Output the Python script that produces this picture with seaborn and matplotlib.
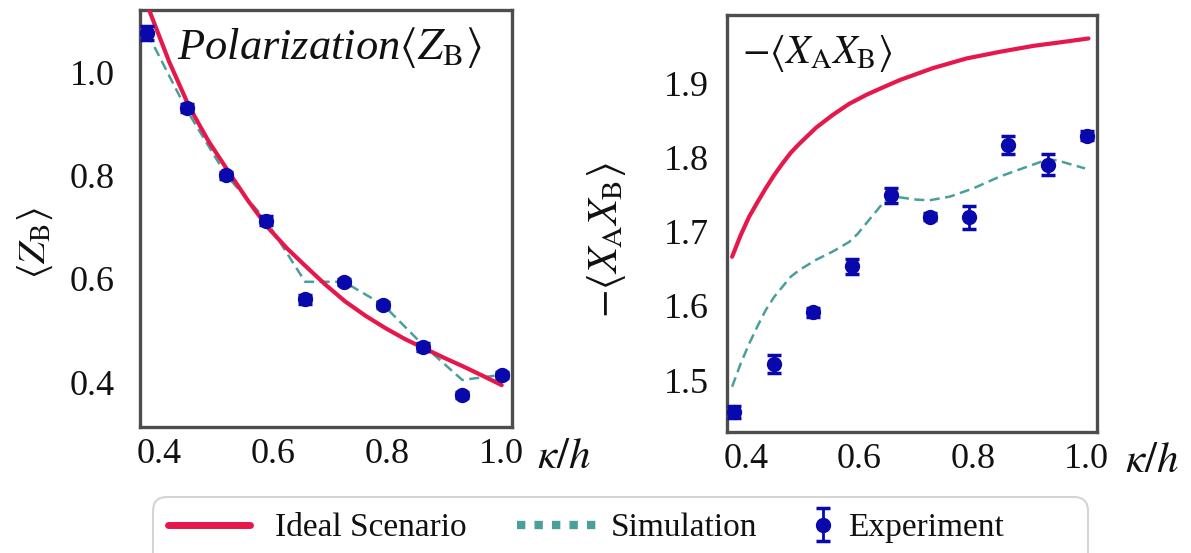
import numpy as np
import pandas as pd
import matplotlib
matplotlib.use("Agg")
import matplotlib.pyplot as plt
from matplotlib.lines import Line2D
from matplotlib.patches import FancyBboxPatch
from matplotlib.transforms import IdentityTransform
import seaborn as sns

# ---------------- data ----------------
kappa = [0.380, 0.449, 0.518, 0.587, 0.656, 0.724, 0.793, 0.862, 0.931, 1.000]

# left panel: polarization <Z_B>
zb_exp = [1.075, 0.930, 0.800, 0.712, 0.560, 0.593, 0.549, 0.468, 0.375, 0.414]
zb_err = [0.014, 0.008, 0.007, 0.009, 0.008, 0.006, 0.006, 0.008, 0.006, 0.006]
zb_sim = [1.075, 0.926, 0.800, 0.714, 0.594, 0.594, 0.549, 0.472, 0.404, 0.414]
zb_ideal_k = [0.383, 0.418, 0.453, 0.487, 0.522, 0.556, 0.590, 0.624, 0.658,
              0.692, 0.726, 0.762, 0.797, 0.831, 0.865, 0.899, 0.933, 0.967,
              1.000]
zb_ideal = [1.120, 1.020, 0.933, 0.866, 0.807, 0.751, 0.700, 0.659, 0.623,
            0.588, 0.556, 0.528, 0.504, 0.483, 0.465, 0.447, 0.430, 0.412,
            0.394]

# right panel: -<X_A X_B>
xx_exp = [1.457, 1.522, 1.591, 1.653, 1.749, 1.720, 1.719, 1.816, 1.790, 1.829]
xx_err = [0.008, 0.012, 0.006, 0.010, 0.010, 0.005, 0.016, 0.012, 0.014, 0.006]
xx_sim_k = [0.376, 0.391, 0.406, 0.421, 0.435, 0.450, 0.465, 0.479, 0.494, 0.524,
            0.553, 0.582, 0.597, 0.612, 0.626, 0.641, 0.656, 0.671, 0.700, 0.723,
            0.759, 0.800, 0.847, 0.894, 0.931, 0.947, 0.965, 0.997]
xx_sim = [1.491, 1.522, 1.549, 1.573, 1.594, 1.612, 1.626, 1.639, 1.648, 1.662,
          1.673, 1.686, 1.697, 1.711, 1.724, 1.738, 1.747, 1.746, 1.743, 1.742,
          1.747, 1.758, 1.774, 1.787, 1.797, 1.796, 1.792, 1.785]
xx_ideal_k = [0.376, 0.391, 0.406, 0.421, 0.435, 0.450, 0.465, 0.479, 0.494,
              0.524, 0.553, 0.582, 0.612, 0.641, 0.671, 0.729, 0.788, 0.847,
              0.906, 0.965, 1.003]
xx_ideal = [1.666, 1.695, 1.720, 1.740, 1.758, 1.776, 1.792, 1.806, 1.818,
            1.840, 1.857, 1.872, 1.884, 1.894, 1.904, 1.920, 1.933, 1.942,
            1.950, 1.956, 1.960]

xticks = [0.4, 0.6, 0.8, 1.0]
xticklabels = ["0.4", "0.6", "0.8", "1.0"]
zb_yticks = [0.4, 0.6, 0.8, 1.0]
zb_yticklabels = ["0.4", "0.6", "0.8", "1.0"]
xx_yticks = [1.5, 1.6, 1.7, 1.8, 1.9]
xx_yticklabels = ["1.5", "1.6", "1.7", "1.8", "1.9"]

legend_labels = ["Ideal Scenario", "Simulation", "Experiment"]

# ---------------- style ----------------
sns.set_theme(style="white")
plt.rcParams["font.family"] = ["Liberation Serif", "DejaVu Serif"]
plt.rcParams["mathtext.fontset"] = "stix"

RED = "#e5174b"
TEAL = "#4a9f9b"
BLUE = "#0808ac"
SPINE = "#4d4d4d"
TXT = "#111111"

W, H = 1191, 553
fig = plt.figure(figsize=(W / 100, H / 100), dpi=100)
axL = fig.add_axes([140 / W, 1 - 427 / H, 372 / W, 417 / H])
axR = fig.add_axes([727 / W, 1 - 432 / H, 370 / W, 417 / H])


def draw(ax, ik, iy, sk, sy, ey, ee):
    sns.lineplot(x=ik, y=iy, ax=ax, color=RED, linewidth=3.0, sort=False,
                 estimator=None, zorder=3)
    sns.lineplot(x=sk, y=sy, ax=ax, color=TEAL, linewidth=1.8, sort=False,
                 estimator=None, zorder=2)
    ax.lines[-1].set_dashes([4.0, 2.2])
    cont = ax.errorbar(kappa, ey, yerr=ee, fmt="o", color=BLUE, ms=10,
                       capsize=5, capthick=2.5, elinewidth=2.0, zorder=5)
    for sp in ax.spines.values():
        sp.set_color(SPINE)
        sp.set_linewidth(2.4)
    ax.set_xlim(0.367, 1.018)
    ax.set_xticks(xticks)
    ax.set_xticklabels(xticklabels)
    ax.tick_params(axis="both", direction="in", length=3, width=1,
                   color="#999999", labelsize=26, labelcolor=TXT)
    ax.tick_params(axis="x", pad=8)
    ax.set_xlabel("")
    ax.set_ylabel("")
    return cont


cont = draw(axL, zb_ideal_k, zb_ideal, kappa, zb_sim, zb_exp, zb_err)
axL.set_ylim(0.313, 1.12)
axL.set_yticks(zb_yticks)
axL.set_yticklabels(zb_yticklabels)
axL.tick_params(axis="y", pad=18)
axL.text(0.10, 0.91, r"Polarization$\langle Z_{\mathrm{B}}\rangle$",
         transform=axL.transAxes, fontsize=32, style="italic",
         ha="left", va="center", color=TXT)

draw(axR, xx_ideal_k, xx_ideal, xx_sim_k, xx_sim, xx_exp, xx_err)
axR.set_ylim(1.43, 1.9916)
axR.set_yticks(xx_yticks)
axR.set_yticklabels(xx_yticklabels)
axR.tick_params(axis="y", pad=13)
axR.text(0.04, 0.91, r"$-\langle X_{\mathrm{A}}X_{\mathrm{B}}\rangle$",
         transform=axR.transAxes, fontsize=29, ha="left", va="center",
         color=TXT)

# axis labels
fig.text(35 / W, 1 - 243 / H, r"$\langle Z_{\mathrm{B}}\rangle$", rotation=90,
         fontsize=28, ha="center", va="center", color=TXT)
fig.text(607 / W, 1 - 240 / H, r"$-\langle X_{\mathrm{A}}X_{\mathrm{B}}\rangle$",
         rotation=90, fontsize=30, ha="center", va="center", color=TXT)
fig.text(564 / W, 1 - 458 / H, r"$\kappa/h$", fontsize=31, ha="center",
         va="center", color=TXT)
fig.text(1152 / W, 1 - 462 / H, r"$\kappa/h$", fontsize=31, ha="center",
         va="center", color=TXT)

# legend: frame + three single-entry legends placed like the reference
frame = FancyBboxPatch((153, H - 575), 935, 78,
                       boxstyle="round,pad=0,rounding_size=14",
                       transform=IdentityTransform(), facecolor="white",
                       edgecolor="#d4d4d4", linewidth=1.5, zorder=0)
fig.add_artist(frame)

h_ideal = Line2D([], [], color=RED, linewidth=5)
h_sim = Line2D([], [], color=TEAL, linewidth=6, linestyle=(0, (1.0, 1.1)),
               dash_capstyle="butt")
yc = 1 - 528 / H
specs = [
    (h_ideal, legend_labels[0], 168, 2.46, 0.75),
    (h_sim, legend_labels[1], 517, 2.5, 0.3),
    (cont, legend_labels[2], 806, 1.0, 0.25),
]
for handle, label, xpx, hl, tp in specs:
    lg = fig.legend([handle], [label], loc="center left",
                    bbox_to_anchor=(xpx / W, yc), fontsize=24, frameon=False,
                    handlelength=hl, handletextpad=tp, borderpad=0,
                    borderaxespad=0)
    for t in lg.get_texts():
        t.set_color(TXT)

fig.savefig("out.png", dpi=100)
